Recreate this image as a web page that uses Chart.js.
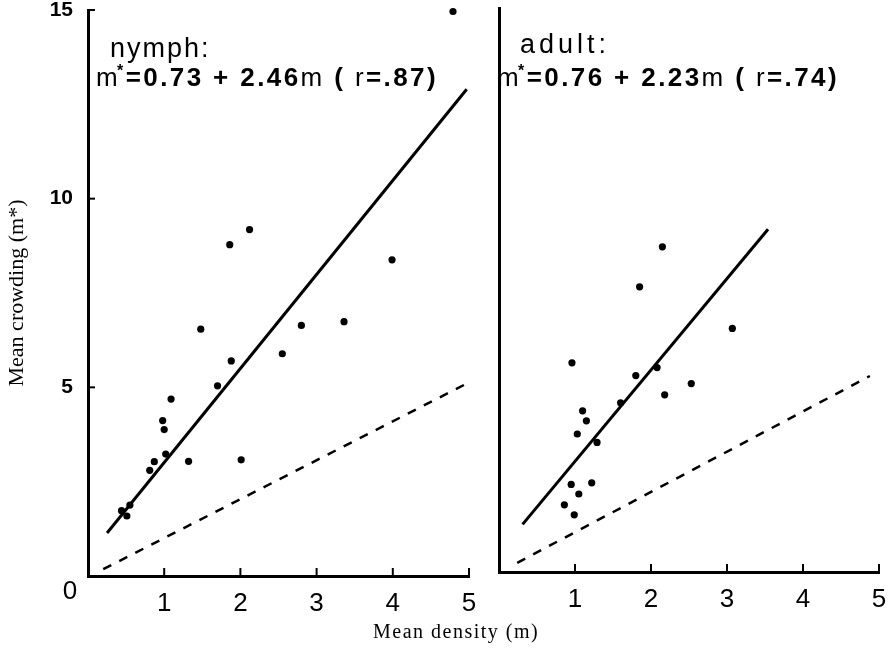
<!DOCTYPE html>
<html>
<head>
<meta charset="utf-8">
<script src="https://cdn.jsdelivr.net/npm/chart.js@4.4.1/dist/chart.umd.min.js"></script>
<style>
  html, body { margin: 0; padding: 0; background: #fff; }
  #wrap { position: relative; width: 888px; height: 652px; overflow: hidden; }
  canvas { position: absolute; top: 0; }
  #cvNymph { left: 0; }
  #cvAdult { left: 480px; }
  .note { position: absolute; color: #000; font-family: "Liberation Sans", Arial, sans-serif; white-space: nowrap; }
  .stage { font-size: 27px; letter-spacing: 2px; }
  .eq { font-size: 26px; font-weight: bold; letter-spacing: 2.4px; }
  .eq .r { font-weight: normal; }
  .eq sup { font-size: 16px; margin-left: -3px; }
  #xTitle { position: absolute; left: 373px; top: 620px; font-family: "Liberation Serif", "DejaVu Serif", serif; font-size: 20px; letter-spacing: 1.5px; }
</style>
</head>
<body>
<div id="wrap">
  <canvas id="cvNymph" width="480" height="652"></canvas>
  <canvas id="cvAdult" width="408" height="652"></canvas>
  <div class="note stage" style="left:110px; top:33px;">nymph:</div>
  <div class="note eq" style="left:96px; top:62px;"><span class="r">m</span><sup>*</sup>=0.73 + 2.46<span class="r">m </span>( <span class="r">r</span>=.87)</div>
  <div class="note stage" style="left:520px; top:29px; letter-spacing:4px;">adult:</div>
  <div class="note eq" style="left:497px; top:62px;"><span class="r">m</span><sup>*</sup>=0.76 + 2.23<span class="r">m </span>( <span class="r">r</span>=.74)</div>
  <div id="xTitle">Mean density (m)</div>
</div>
<script>
// nymphes : densité moyenne / encombrement moyen
const nymphDensity = [2.12, 1.86, 3.99, 1.48, 2.80, 3.36, 2.55, 1.88, 1.70, 1.09, 0.98, 1.00, 1.02, 0.87, 1.32, 2.01, 0.81, 0.44, 0.51, 0.55, 4.79];
const nymphCrowding = [9.18, 8.78, 8.38, 6.54, 6.64, 6.74, 5.89, 5.70, 5.04, 4.69, 4.12, 3.88, 3.23, 3.03, 3.04, 3.08, 2.80, 1.73, 1.59, 1.88, 14.96];
const nymphFitDensity = [0.25, 4.97];
const nymphFitCrowding = [1.14, 12.9];
const nymphRefDensity = [0.2, 4.97];
const nymphRefCrowding = [0.18, 5.1];

// adultes
const adultDensity = [0.96, 2.08, 1.80, 2.53, 2.18, 1.60, 1.10, 1.15, 1.03, 1.29, 0.95, 1.22, 1.05, 0.86, 0.99, 2.15, 1.85, 3.07];
const adultCrowding = [5.23, 5.11, 4.91, 4.71, 4.43, 4.23, 4.03, 3.78, 3.45, 3.24, 2.19, 2.23, 1.95, 1.68, 1.43, 8.13, 7.13, 6.09];
const adultFitDensity = [0.31, 3.54];
const adultFitCrowding = [1.19, 8.57];
const adultRefDensity = [0.24, 4.88];
const adultRefCrowding = [0.23, 4.9];

// graduations
const xTickValues = [1, 2, 3, 4, 5];
const yTickValues = [5, 10, 15];

function toPoints(xs, ys) {
  return xs.map((x, i) => ({ x: x, y: ys[i] }));
}

// petites graduations tournées vers l'intérieur + le "0" du coin
const innerTicks = {
  id: "innerTicks",
  afterDraw(chart, args, opts) {
    const ctx = chart.ctx;
    const x = chart.scales.x;
    const y = chart.scales.y;
    ctx.save();
    ctx.strokeStyle = "#000";
    ctx.lineWidth = 2;
    (opts.xTicks || []).forEach((v) => {
      const px = x.getPixelForValue(v);
      ctx.beginPath();
      ctx.moveTo(px, y.bottom);
      ctx.lineTo(px, y.bottom - 8);
      ctx.stroke();
    });
    (opts.yTicks || []).forEach((v) => {
      const py = y.getPixelForValue(v);
      ctx.beginPath();
      ctx.moveTo(x.left, py);
      ctx.lineTo(x.left + 7, py);
      ctx.stroke();
    });
    if (opts.corner) {
      ctx.fillStyle = "#000";
      ctx.font = '26px "Liberation Sans Narrow", "Liberation Sans", sans-serif';
      ctx.textAlign = "center";
      ctx.textBaseline = "middle";
      ctx.fillText(opts.corner, x.left - 18, y.bottom + 16);
    }
    ctx.restore();
  },
};

function makePanel(canvasId, pts, fit, ref, cfg) {
  const ctx = document.getElementById(canvasId).getContext("2d");
  return new Chart(ctx, {
    type: "scatter",
    data: {
      datasets: [
        {
          data: pts,
          pointRadius: 3.6,
          pointBackgroundColor: "#000",
          pointBorderWidth: 0,
          showLine: false,
          clip: false,
        },
        {
          data: fit,
          showLine: true,
          borderColor: "#000",
          borderWidth: 3,
          pointRadius: 0,
          clip: false,
        },
        {
          data: ref,
          showLine: true,
          borderColor: "#000",
          borderWidth: 2.5,
          borderDash: [9, 9],
          pointRadius: 0,
          clip: false,
        },
      ],
    },
    options: {
      responsive: false,
      animation: false,
      layout: { padding: cfg.padding },
      plugins: {
        legend: { display: false },
        tooltip: { enabled: false },
        innerTicks: cfg.inner,
      },
      scales: {
        x: {
          type: "linear",
          min: 0,
          max: 5,
          afterFit: (scale) => {
            scale.height = cfg.xHeight;
            scale.paddingLeft = 0;
            scale.paddingRight = 0;
          },
          grid: { display: false, drawTicks: false },
          border: { display: true, color: "#000", width: 3 },
          ticks: {
            stepSize: 1,
            padding: 12,
            color: "#000",
            font: { family: '"Liberation Sans Narrow", "Liberation Sans", sans-serif', size: 26 },
            callback: (v) => (v === 0 ? "" : v),
          },
        },
        y: {
          type: "linear",
          min: 0,
          max: cfg.yMax,
          afterFit: (scale) => {
            scale.width = cfg.yWidth;
            scale.paddingTop = 0;
            scale.paddingBottom = 0;
          },
          grid: { display: false, drawTicks: false },
          border: { display: true, color: "#000", width: 3 },
          title: cfg.yTitle,
          ticks: {
            display: cfg.yLabels,
            stepSize: 5,
            padding: 15,
            color: "#000",
            font: { family: '"Liberation Sans", sans-serif', size: 21, weight: "bold" },
            callback: (v) => (v === 0 ? "" : v),
          },
        },
      },
    },
    plugins: [innerTicks],
  });
}

makePanel(
  "cvNymph",
  toPoints(nymphDensity, nymphCrowding),
  toPoints(nymphFitDensity, nymphFitCrowding),
  toPoints(nymphRefDensity, nymphRefCrowding),
  {
    padding: { left: 0, top: 10, right: 11, bottom: 0 },
    xHeight: 76,
    yWidth: 88,
    yMax: 15,
    yLabels: true,
    yTitle: {
      display: true,
      text: "Mean crowding (m*)",
      color: "#000",
      font: { family: '"Liberation Serif", "DejaVu Serif", serif', size: 22 },
      padding: { top: 4, bottom: 0 },
    },
    inner: { xTicks: xTickValues, yTicks: yTickValues, corner: "0" },
  }
);

makePanel(
  "cvAdult",
  toPoints(adultDensity, adultCrowding),
  toPoints(adultFitDensity, adultFitCrowding),
  toPoints(adultRefDensity, adultRefCrowding),
  {
    padding: { left: 0, top: 8, right: 9, bottom: 0 },
    xHeight: 80,
    yWidth: 19,
    yMax: 14.1,
    yLabels: false,
    yTitle: { display: false },
    inner: { xTicks: xTickValues, yTicks: [] },
  }
);
</script>
</body>
</html>
